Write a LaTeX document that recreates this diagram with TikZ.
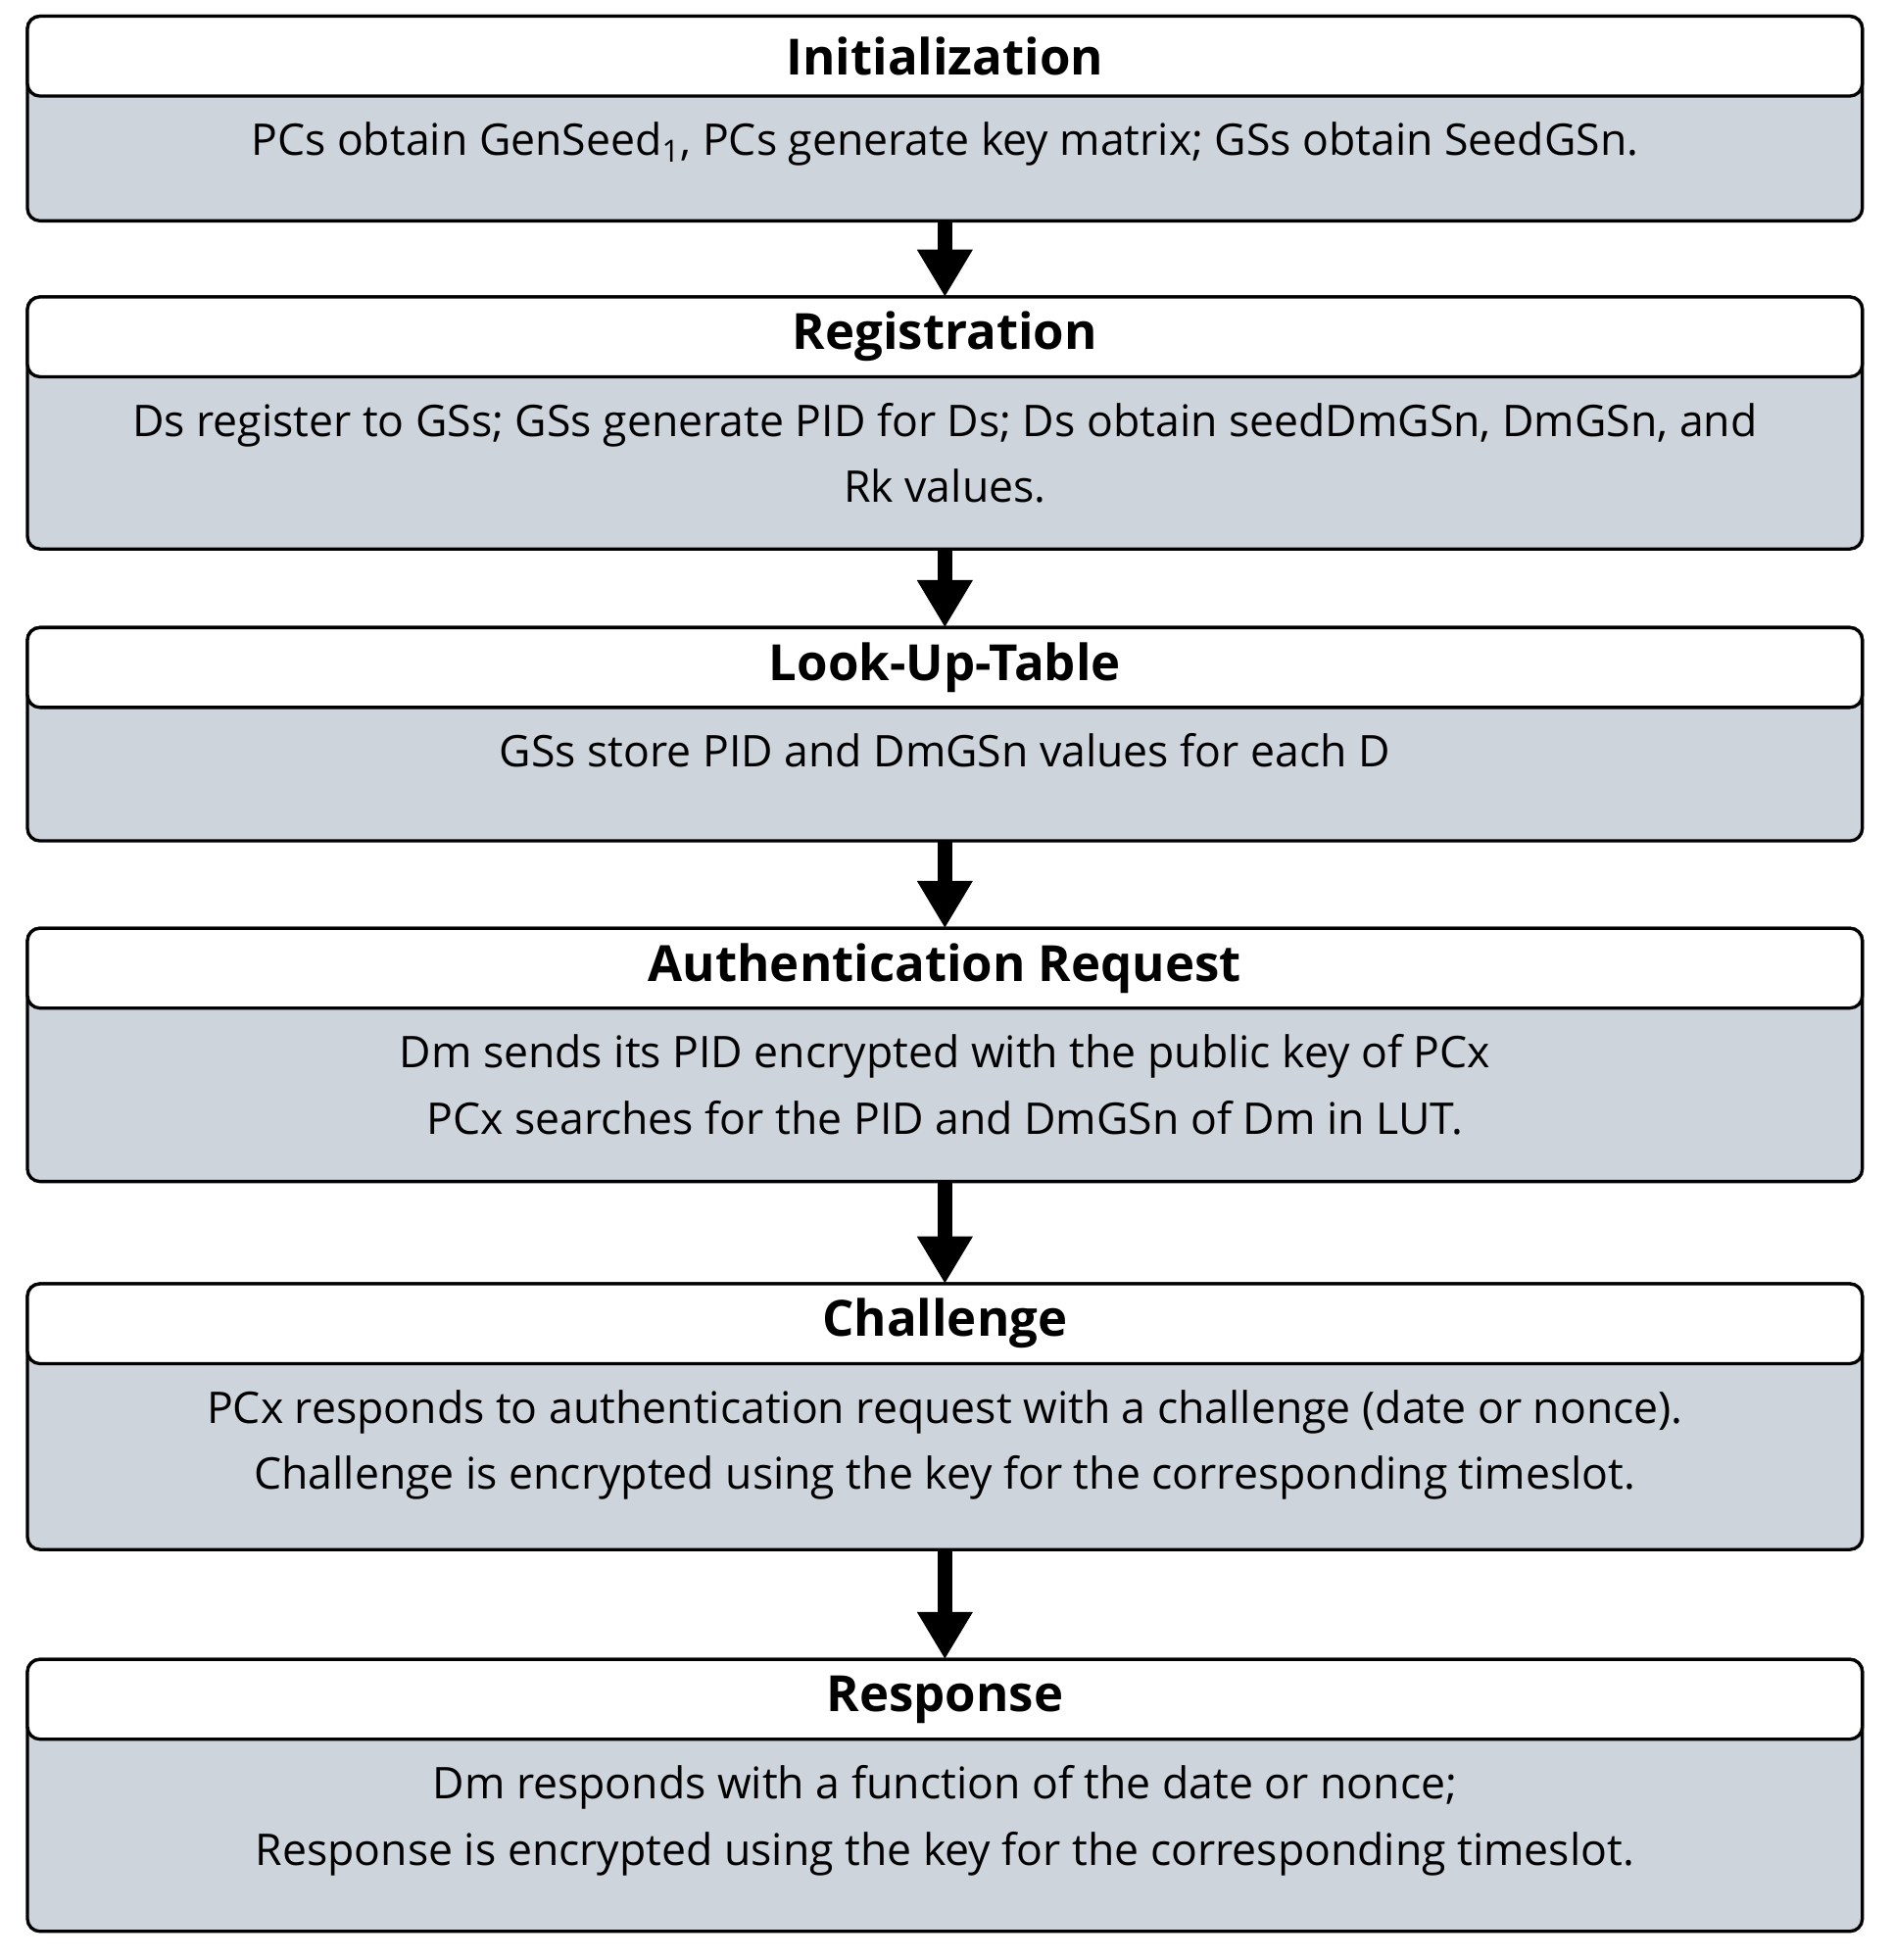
\documentclass[tikz,border=0pt]{standalone}
\usepackage{fontspec}
\setmainfont{Open Sans}
\usetikzlibrary{arrows.meta}
\definecolor{bodyfill}{HTML}{CED4DC}
\tikzset{
 x=0.5pt,y=-0.5pt,
 outerbox/.style={draw=black,line width=1.3pt,fill=bodyfill,rounded corners=5pt},
 titlebox/.style={draw=black,line width=1.3pt,fill=white,rounded corners=5pt},
 titletext/.style={font=\fontsize{20}{24}\selectfont\bfseries,anchor=center},
 bodytext/.style={font=\fontsize{17.5}{26.5}\selectfont,align=center,anchor=north},
 flow/.style={line width=6pt,-{Triangle[width=21pt,length=19pt]}}
}
\newcommand{\stage}[6]{% name, top, titlebottom, bottom, title, text
 \draw[outerbox] (22,#2) rectangle (1493,#4);
 \draw[titlebox] (22,#2) rectangle (1493,#3);
 \path (22,#2) -- (1493,#4) coordinate[pos=0] (#1nw) coordinate[pos=1] (#1se);
 \coordinate (#1top) at (757.5,#2);
 \coordinate (#1bot) at (757.5,#4);
 \node[titletext] (#1title) at (757.5,{(#2+#3)/2}) {#5};
 \node[bodytext] (#1body) at (757.5,{#3+14}) {#6};
}
\begin{document}
\begin{tikzpicture}
\useasboundingbox (0,0) rectangle (1517,1571);
\stage{a}{13}{77}{177}{Initialization}{PCs obtain GenSeed\textsubscript{1}, PCs generate key matrix; GSs obtain SeedGSn.}
\stage{b}{238}{302}{440}{Registration}{Ds register to GSs; GSs generate PID for Ds; Ds obtain seedDmGSn, DmGSn, and\\Rk values.}
\stage{c}{503}{567}{674}{Look-Up-Table}{GSs store PID and DmGSn values for each D}
\stage{d}{744}{808}{947}{Authentication Request}{Dm sends its PID encrypted with the public key of PCx\\PCx searches for the PID and DmGSn of Dm in LUT.}
\stage{e}{1029}{1093}{1242}{Challenge}{PCx responds to authentication request with a challenge (date or nonce).\\Challenge is encrypted using the key for the corresponding timeslot.}
\stage{f}{1330}{1394}{1548}{Response}{Dm responds with a function of the date or nonce;\\Response is encrypted using the key for the corresponding timeslot.}
\draw[flow] (abot) -- (btop);
\draw[flow] (bbot) -- (ctop);
\draw[flow] (cbot) -- (dtop);
\draw[flow] (dbot) -- (etop);
\draw[flow] (ebot) -- (ftop);
\end{tikzpicture}
\end{document}
